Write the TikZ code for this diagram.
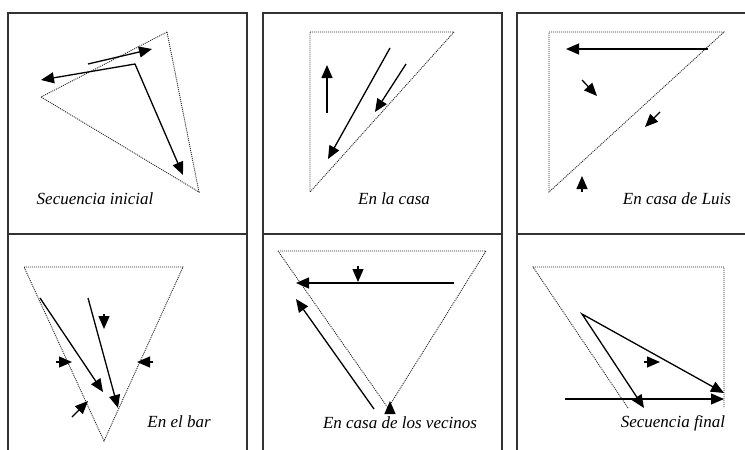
\documentclass[tikz,border=0pt]{standalone}
\usepackage{fontspec}
\setmainfont{Liberation Serif}
\usetikzlibrary{arrows.meta}

\begin{document}
\begin{tikzpicture}[x=1pt, y=-1pt,
        frame/.style={draw=black!80, line width=1.3pt},
        route/.style={draw=black!85, line width=0.9pt, dash pattern=on 1pt off 1pt},
        move/.style={draw, line width=1.3pt, -{Triangle[length=13pt, width=11pt]}},
        twoway/.style={draw, line width=1.3pt, {Triangle[length=13pt, width=11pt]}-{Triangle[length=13pt, width=11pt]}},
        lbl/.style={font=\fontsize{17}{20}\selectfont\itshape, anchor=base, inner sep=0pt}
    ]
    \useasboundingbox (0,0) rectangle (745,450);

    % frames
    \foreach \xl/\xr in {8/247, 263/502} {
        \draw[frame] (\xl,450) -- (\xl,13) -- (\xr,13) -- (\xr,450);
        \draw[frame] (\xl,234) -- (\xr,234);
    }
    \draw[frame] (517,450) -- (517,13) -- (745,13);
    \draw[frame] (517,234) -- (745,234);

    % Secuencia inicial
    \draw[route] (167,32) -- (41,97) -- (199,192) -- cycle;
    \draw[move] (88,64) -- (152,49);
    \draw[twoway] (41,80) -- (135,64) -- (183,175);
    \node[lbl] (l1) at (95,204) {Secuencia inicial};

    % En la casa
    \draw[route] (310,32) -- (454,32) -- (310,192) -- cycle;
    \draw[move] (327,113) -- (327,65);
    \draw[move] (390,48) -- (328,159);
    \draw[move] (406,64) -- (375,112);
    \node[lbl] (l2) at (394,204) {En la casa};

    % En casa de Luis
    \draw[route] (549,32) -- (724,32) -- (549,192) -- cycle;
    \draw[move] (708,49) -- (566,49);
    \draw[move] (582,80) -- (597,96);
    \draw[move] (660,112) -- (645,127);
    \draw[move] (582,192) -- (582,176);
    \node[lbl] (l3) at (677,204) {En casa de Luis};

    % En el bar
    \draw[route] (24,267) -- (183,267) -- (104,441) -- cycle;
    \draw[move] (40,298) -- (103,392);
    \draw[move] (88,298) -- (118,408);
    \draw[move] (104,314) -- (104,329);
    \draw[move] (56,362) -- (72,362);
    \draw[move] (153,362) -- (137,362);
    \draw[move] (72,417) -- (88,401);
    \node[lbl] (l4) at (179,427) {En el bar};

    % En casa de los vecinos
    \draw[route] (278,251) -- (486,251) -- (388,408) -- cycle;
    \draw[move] (454,283) -- (296,283);
    \draw[move] (358,266) -- (358,282);
    \draw[move] (374,409) -- (296,299);
    \draw[move] (390,410) -- (390,401);
    \node[lbl] (l5) at (400,428) {En casa de los vecinos};

    % Secuencia final
    \draw[route] (628,408) -- (533,267) -- (724,267) -- (724,408);
    \draw[move] (565,399) -- (724,399);
    \draw[twoway] (724,393) -- (582,314) -- (644,408);
    \draw[move] (644,362) -- (660,362);
    \node[lbl] (l6) at (673,427) {Secuencia final};
\end{tikzpicture}
\end{document}
